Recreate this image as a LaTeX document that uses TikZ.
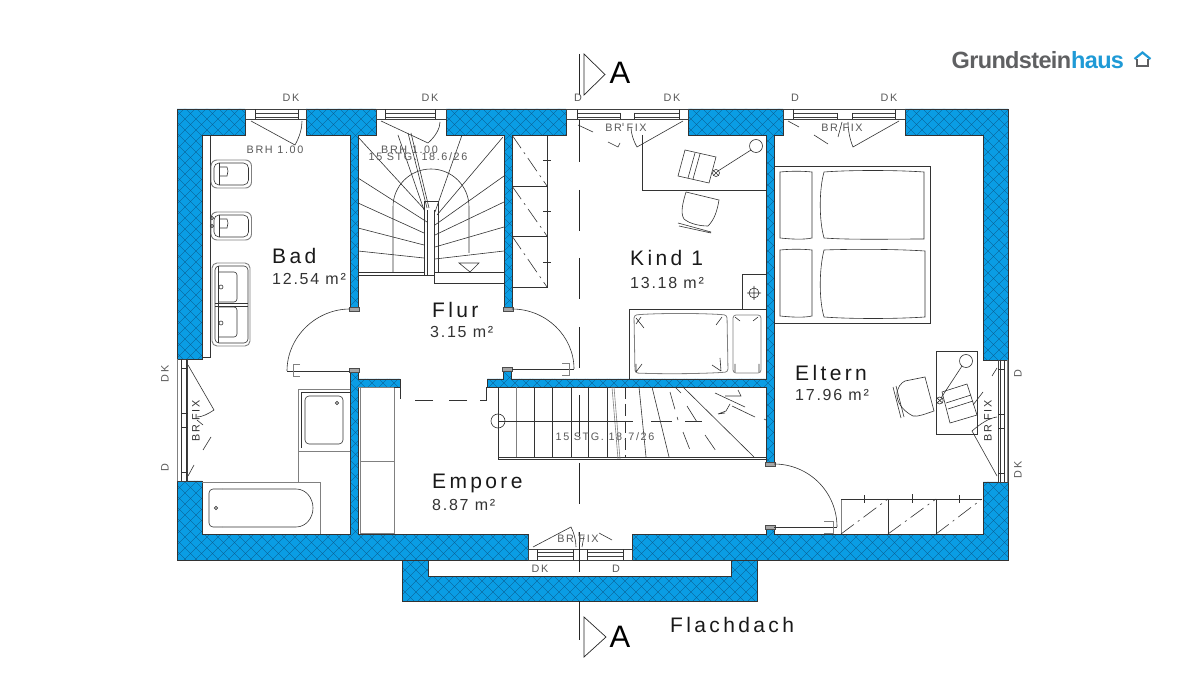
\documentclass[tikz,border=0pt]{standalone}
\usepackage{fontspec}
\setmainfont{Liberation Sans}
\newfontfamily\roomfont[LetterSpace=16]{Liberation Sans}
\newfontfamily\areafont[LetterSpace=11]{Liberation Sans}
\newfontfamily\tinyfont[LetterSpace=15]{Liberation Sans}
\newfontfamily\logofont[LetterSpace=-2.8]{Liberation Sans Bold}
\definecolor{wallblue}{HTML}{0A9DE4}
\definecolor{hatchdark}{HTML}{0C4F7C}
\definecolor{logogray}{HTML}{5F6062}
\definecolor{logoblue}{HTML}{1F9AD6}
\newcommand{\wallshape}{
 (245,109)--(177,109)--(177,359)--(202,359)--(202,135)--(245,135)--cycle
 (306,109)--(376,109)--(376,135)--(358,135)--(358,309)--(350,309)--(350,135)--(306,135)--cycle
 (446,109)--(566,109)--(566,135)--(512,135)--(512,309)--(504,309)--(504,135)--(446,135)--cycle
 (688,109)--(783,109)--(783,135)--(774,135)--(774,464)--(766,464)--(766,387)--(487,387)--(487,379)--(503,379)--(503,369)--(511,369)--(511,379)--(766,379)--(766,135)--(688,135)--cycle
 (905,109)--(1008,109)--(1008,360)--(983,360)--(983,135)--(905,135)--cycle
 (177,481)--(202,481)--(202,534)--(350,534)--(350,369)--(358,369)--(358,379)--(400,379)--(400,387)--(358,387)--(358,534)--(528,534)--(528,560)--(177,560)--cycle
 (632,534)--(766,534)--(766,525)--(774,525)--(774,534)--(983,534)--(983,482)--(1008,482)--(1008,560)--(632,560)--cycle
 (402,560)--(428,560)--(428,576)--(731,576)--(731,560)--(757,560)--(757,601)--(402,601)--cycle
}
\tikzset{
 ln/.style={draw=black!80,line width=.6pt},
 gl/.style={draw=black!50,line width=.9pt},
 frame/.style={draw=black!75,line width=.6pt,fill=white},
 ddot/.style={draw=black!80,line width=.6pt,dash pattern=on 16pt off 5pt on 2pt off 5pt},
 sec/.style={draw=black!85,line width=.7pt},
 roomlab/.style={inner sep=0pt,anchor=west,text=black!90,font=\roomfont\fontsize{21}{24}\selectfont},
 arealab/.style={inner sep=0pt,anchor=west,text=black!80,font=\areafont\fontsize{16}{18}\selectfont},
 tiny/.style={inner sep=0pt,text=black!65,font=\tinyfont\fontsize{10.8}{12}\selectfont},
 seclab/.style={inner sep=0pt,text=black,font=\fontsize{31}{34}\selectfont},
}
\begin{document}
\begin{tikzpicture}[x=1pt,y=-1pt]
\useasboundingbox (0,0) rectangle (1200,700);
\fill[white] (0,0) rectangle (1200,700);

% walls
\begin{scope}
\clip \wallshape;
\fill[wallblue] (0,0) rectangle (1200,700);
\foreach \k in {-704,-693,...,1210}{
 \draw[hatchdark,line width=.3pt] (\k,0)--(\k+700,700);
 \draw[hatchdark,line width=.3pt] (\k+700,0)--(\k,700);
}
\end{scope}
\draw[black!80,line width=.6pt] \wallshape;

% wall end caps
\foreach \cx/\cy in {354/309.5,508/309.5,770/464.5}{
 \draw[draw=black!70,fill=black!35,line width=.5pt] (\cx-5,\cy-2) rectangle (\cx+5,\cy+2);
}
\foreach \cx/\cy in {354/370,507/369,770/527}{
 \draw[draw=black!70,fill=black!35,line width=.5pt] (\cx-5,\cy-2) rectangle (\cx+5,\cy+2);
}

% windows top
\foreach \xa/\xb/\pa/\pb in {245/306/255/298,376/446/385/435}{
 \draw[frame] (\xa,109) rectangle (\xb,119);
 \draw[frame] (\pa,113) rectangle (\pb,117);
 \draw[ln] (\pa,109.5)--(\pa,119) (\pb,109.5)--(\pb,119);
}
\foreach \xa/\xb/\pa/\pb/\pc/\pd in {566/688/577/620/634/679,783/905/793/837/852/895}{
 \draw[frame] (\xa,109) rectangle (\xb,119);
 \draw[frame] (\pa,113) rectangle (\pb,117);
 \draw[frame] (\pc,113) rectangle (\pd,117);
 \draw[ln] (\pa,109.5)--(\pa,119) (\pd,109.5)--(\pd,119);
 \draw[ln] (\pb,113)--(\pb,119) (\pc,113)--(\pc,119);
}
% window bottom
\draw[frame] (528,549) rectangle (632,560);
\draw[frame] (537,552) rectangle (573,556);
\draw[frame] (587,552) rectangle (623,556);
\draw[ln] (518+19,549)--(537,560) (573,549)--(573,560) (587,549)--(587,560) (623,549)--(623,560);
% window left
\draw[frame] (177,359) rectangle (187,481);
\draw[gl] (177.5,359)--(177.5,481);
\draw[ln] (181,359)--(181,481) (186,359)--(186,481);
\foreach \yy in {368,413,427,472}{\draw[ln] (181,\yy)--(187.5,\yy);}
% window right
\draw[frame] (998,360) rectangle (1008,482);
\draw[gl] (1007.5,360)--(1007.5,482);
\draw[ln] (1000,360)--(1000,482) (1004,360)--(1004,482);
\foreach \yy in {369,414,428,473}{\draw[ln] (998,\yy)--(1004,\yy);}

% window swings
\draw[ln] (251,121)--(295,145) .. controls (300,136) and (302,128) .. (302,121);
\draw[ln] (381,121)--(428,143) .. controls (436,136) and (440,128) .. (440,122);
\draw[ln] (578,125)--(593,132) (608,142)--(618,147)--(620,143) (623,123)--(623,126);
\draw[ln] (683,121)--(637,147) .. controls (633,140) and (631,133) .. (631,127);
\draw[ln] (788,121)--(799,127) (814,135)--(828,144) (842,122)--(838,137);
\draw[ln] (899,121)--(853,147) .. controls (850,140) and (848,130) .. (848,122);
\draw[ln] (533,547)--(571,527) .. controls (574,533) and (576,540) .. (576,547);
\draw[ln] (599,533)--(612,540) (582,547)--(584,536) (579,532)--(579,536);
\draw[ln] (188,365)--(214,410) .. controls (208,414) and (202,417) .. (197,417);
\draw[ln] (211,437)--(203,450) (194,465)--(188,476) (203,425)--(197,420);
\draw[ln] (997,476)--(972,431) .. controls (980,424) and (989,418) .. (997,417);
\draw[ln] (973,405)--(983,392) (992,376)--(997,368);

% Bad fixtures
\draw[ln] (210,135)--(210,357)--(202,357);
\foreach \yy in {160,212}{
 \draw[gl,rounded corners=6pt] (211,\yy) rectangle (251.5,\yy+28);
 \draw[ln,rounded corners=5pt] (214,\yy+3) rectangle (248.5,\yy+25);
 \draw[ln] (219,\yy+3)--(219,\yy+25);
 \draw[ln] (219,\yy+7)--(227,\yy+7)--(228,\yy+11)--(227,\yy+16)--(219,\yy+16);
}
\draw[ln] (212,218) circle (1.6) (212,226) circle (1.6);
\draw[gl,rounded corners=5pt] (212,263) rectangle (250,346);
\draw[ln,rounded corners=4pt] (215,266) rectangle (248,343);
\draw[ln] (218,266)--(218,343);
\draw[ln,rounded corners=3pt] (219,272)--(237,272)--(237,302)--(219,302);
\draw[ln,rounded corners=3pt] (219,307)--(237,307)--(237,337)--(219,337);
\draw[ln] (215,303)--(248,303) (215,306)--(248,306);
\draw[ln] (221,287) circle (2) (221,323) circle (2);
% shower
\draw[gl] (298,482)--(298,389)--(350,389) (298,451)--(350,451);
\draw[ln] (301,448)--(301,392)--(350,392);
\draw[ln,rounded corners=4pt] (305,396) rectangle (343,444);
\draw[ln] (337,403) circle (1.6);
% bath
\draw[gl] (202,482)--(320,482)--(320,534);
\draw[ln,rounded corners=4pt] (222,489)--(209,489)--(209,527)--(222,527);
\draw[ln] (222,489)--(296,489) .. controls (306,489) and (313,498) .. (313,508) .. controls (313,518) and (306,527) .. (296,527)--(222,527);
\draw[ln] (216,508) circle (1.6);
% Empore cabinet
\draw[gl] (358,387.5)--(394,387.5);
\draw[gl] (394,388)--(394,533)--(360,533)--(360,388);
\draw[gl] (360,461)--(394,461);

% Flur doors
\draw[ln,line width=.9pt] (287,371.5)--(350,371.5);
\draw[ln] (350,309) .. controls (316,309) and (287,337) .. (287,371);
\draw[gl,line width=.8pt] (300,364.5)--(293,364.5)--(293,376.5)--(300,376.5);
\draw[ln,line width=.9pt] (512,369)--(574,369);
\draw[ln] (512,309) .. controls (546,309) and (574,336) .. (574,369);
\draw[gl,line width=.8pt] (562,363.5)--(569,363.5)--(569,375.5)--(562,375.5);

% upper stair
\draw[ln] (358,272)--(424,272) (358,275)--(434,275);
\draw[ln] (434,272)--(504,272) (434,272)--(434,283)--(504,283);
\draw[ln] (424,275)--(424,201)--(438,201)--(438,272) (427,275)--(427,210) (434,275)--(434,210);
\draw[ln] (393,272)--(393,207) .. controls (393,186) and (410,169) .. (431,169) .. controls (452,169) and (469,186) .. (469,207)--(469,253);
\draw[ln] (358,137)--(425,210) (358,178)--(427,222) (358,203)--(424,233) (358,228)--(424,245) (358,251)--(424,258);
\draw[ln] (503,137)--(437,215) (504,176)--(435,225) (504,202)--(435,235) (504,227)--(435,247) (504,251)--(435,259);
\draw[ln] (398,135)--(424,210) (462,135)--(435,212);
\draw[ln] (408,133)--(427,208) (411,133)--(429,208);
\draw[ln] (459,263)--(479,263)--(470,272)--cycle;

% cabinet beside stair
\draw[ln] (512,135)--(547,135)--(547,287)--(512,287) (512,186)--(547,186) (512,236)--(547,236);
\draw[ln] (543,160)--(551,160) (543,211)--(551,211) (543,262)--(551,262);
\draw[ddot] (512,135)--(547,186);
\draw[ddot] (512,186)--(547,236);
\draw[ddot] (512,236)--(547,287);

% Kind 1 desk
\draw[ln] (642,135)--(642,190)--(766,190);
\draw[ln] (685,150)--(716,157)--(709,183)--(678,176)--cycle;
\draw[ln] (695,153)--(688,178) (700,154)--(693,179);
\draw[ln] (756,146) circle (6.5) (716,173) circle (3.5);
\draw[ln] (751,150)--(718,171) (713.5,170.5)--(718.5,175.5) (713.5,175.5)--(718.5,170.5);
\draw[ln] (686,192)--(719,200) .. controls (717,212) and (714,220) .. (708,226)
  .. controls (700,226) and (690,224) .. (684,219) .. controls (680,213) and (683,202) .. (686,192);
\draw[ln] (678,223)--(711,232) (679,226)--(711,233);

% Kind 1 bed
\draw[ln] (629,379)--(629,309)--(766,309);
\draw[ln] (742,309)--(742,274)--(766,274);
\draw[gl,line width=.8pt,rounded corners=3pt] (634,315) .. controls (660,313) and (700,313) .. (727,315) -- (728,372) .. controls (700,374) and (660,374) .. (635,373)--cycle;
\draw[gl,line width=.8pt,rounded corners=3pt] (733,315)--(761,315)--(761,373)--(733,373)--cycle;
\draw[ln] (754,293) circle (5) (747,293)--(761,293) (754,286)--(754,300);
\draw[ln] (636,318)--(644,328) (636,324)--(641,317) (722,317)--(716,325) (636,372)--(642,364) (636,364)--(636,372) (721,371)--(712,365) (721,371)--(720,358);
\draw[ln] (735,317)--(740,321) (758,317)--(753,321) (735,372)--(735,364) (759,372)--(759,364);

% lower stair
\draw[ln] (498,387)--(498,459)--(767,459) (498,457)--(767,457);
\foreach \xx in {534,552,571,588,607}{\draw[ln] (\xx,387)--(\xx,457);}
\draw[gl,line width=.8pt] (516,387)--(516,457);
\draw[gl,line width=.6pt] (612,387)--(618,459) (614,387)--(620,459);
\draw[ln] (639,387)--(646,457) (652,387)--(669,457) (683,387)--(754,457);
\draw[ln,dash pattern=on 12pt off 5pt] (625,387)--(625,457);
\draw[ln,dash pattern=on 18pt off 8pt] (670,392)--(678,420) (687,406)--(697,422) (683,432)--(690,450) (705,435)--(716,451);
\draw[ln] (675,387)--(681,393) (715,393)--(745,407) (732,406)--(755,417) (725,413)--(718,414) (738,390)--(741,396)--(725,396) (730,404)--(726,411)--(718,414) (764,419)--(766,420);
\draw[ln] (498,421) circle (7);
\draw[ln] (498,421)--(633,421) (651,421)--(672,421) (685,421)--(702,421);

% Eltern bed
\draw[ln] (774,166)--(930,166)--(930,323)--(774,323);
\draw[ln] (780,172) .. controls (790,171) and (803,171) .. (812,172) -- (812,238) .. controls (803,240) and (790,239) .. (780,238)--cycle;
\draw[ln] (780,250) .. controls (790,249) and (803,249) .. (812,250) -- (812,316) .. controls (803,318) and (790,317) .. (780,316)--cycle;
\draw[ln] (824,172) .. controls (850,170) and (895,170) .. (924,172) -- (924,239) .. controls (895,239) and (850,240) .. (824,238) .. controls (819,220) and (819,190) .. (824,172)--cycle;
\draw[ln] (824,250) .. controls (850,249) and (895,249) .. (925,251) -- (925,317) .. controls (895,319) and (850,319) .. (824,317) .. controls (819,300) and (819,270) .. (824,250)--cycle;

% Eltern desk
\draw[ln] (936,351) rectangle (977,434);
\draw[ln] (966,361) circle (6.5) (939.7,400.5) circle (3.5);
\draw[ln] (962,366)--(941,398) (937,398)--(942.5,403) (937,403)--(942.5,398);
\draw[ln] (942,392)--(967,384)--(977,415)--(950,423)--cycle;
\draw[ln] (946,403)--(971,395) (948,409)--(973,401);
\draw[ln] (925,377)--(934,411) .. controls (925,414) and (918,417) .. (913,416) .. controls (905,412) and (898,405) .. (897,396) .. controls (896,388) and (902,382) .. (905,381)--cycle;
\draw[ln] (893,387)--(901,418) (896,386)--(904,417);

% Eltern door
\draw[ln,line width=.9pt] (774,527)--(837,527);
\draw[ln] (774,464) .. controls (809,464) and (837,492) .. (837,527);
\draw[gl,line width=.8pt] (824,521)--(833,521)--(833,533)--(824,533);
% Eltern wardrobe
\draw[gl] (841,499)--(841,534);
\draw[ln,line width=.8pt] (841,499)--(982,499);
\draw[ln] (888,499)--(888,534) (936,499)--(936,534);
\draw[ln] (864,495)--(864,503) (912,494)--(912,503) (959,495)--(959,503);
\draw[ddot] (841,534)--(888,499);
\draw[ddot] (888,534)--(936,499);
\draw[ddot] (936,534)--(982,499);

% Empore stubs and dashed line
\draw[ln] (400,387)--(400,399);
\draw[ln] (486,387)--(486,400)--(480,400) (467,400)--(449,400) (433,400)--(415,400);

% section line
\draw[sec] (579,54)--(579,95);
\draw[sec] (584,54)--(605,74.5)--(584,95)--cycle;
\draw[sec] (579,120)--(579,162) (579,190)--(579,231) (579,258)--(579,299) (579,327)--(579,368)
  (579,395)--(579,436) (579,463)--(579,504) (579,532)--(579,572) (579,601)--(579,640);
\draw[sec] (584,617)--(606,637)--(584,657)--cycle;

% section labels
\node[seclab] (secTop) at (620,73) {A};
\node[seclab] (secBot) at (620,637) {A};

% window labels
\node[tiny] (w1) at (291,98) {DK};
\node[tiny] (w2) at (430,98) {DK};
\node[tiny] (w3) at (578,98) {D};
\node[tiny] (w4) at (672,98) {DK};
\node[tiny] (w5) at (795,98) {D};
\node[tiny] (w6) at (889,98) {DK};
\node[tiny] (w7) at (275,149.5) {BRH 1.00};
\node[tiny] (w8) at (409.5,149.5) {BRH 1.00};
\node[tiny] (w9) at (418,157) {15 STG. 18.6/26};
\node[tiny] (w10) at (626,128) {BR FIX};
\node[tiny] (w11) at (842,128) {BR FIX};
\node[tiny] (w12) at (578,539) {BR FIX};
\node[tiny] (w13) at (540,569) {DK};
\node[tiny] (w14) at (616,569) {D};
\node[tiny] (w15) at (605,437) {15 STG. 18.7/26};
\node[tiny,rotate=90] (w16) at (165,374) {DK};
\node[tiny,rotate=90] (w17) at (165,468) {D};
\node[tiny,rotate=90,text=black!80] (w18) at (196,421) {BR FIX};
\node[tiny,rotate=90] (w19) at (1018,374) {D};
\node[tiny,rotate=90] (w20) at (1018,470) {DK};
\node[tiny,rotate=90,text=black!80] (w21) at (988,421) {BR FIX};

% room labels
\node[roomlab] (r1) at (272,256) {Bad};
\node[arealab] (a1) at (272,279) {12.54 m²};
\node[roomlab] (r2) at (432,309.5) {Flur};
\node[arealab] (a2) at (430,332) {3.15 m²};
\node[roomlab] (r3) at (630,258) {Kind 1};
\node[arealab] (a3) at (630,283) {13.18 m²};
\node[roomlab] (r4) at (795,372.5) {Eltern};
\node[arealab] (a4) at (795,395) {17.96 m²};
\node[roomlab] (r5) at (432,483) {Empore};
\node[arealab] (a5) at (432,505) {8.87 m²};
\node[roomlab] (r6) at (670,625) {Flachdach};

% logo
\node[inner sep=0pt,anchor=west,font=\logofont\fontsize{23.5}{26}\selectfont] (logo) at (951.5,60)
  {\textcolor{logogray}{Grundstein}\textcolor{logoblue}{haus}};
\draw[logoblue,line width=2.2pt,line join=miter] (1134.5,59)--(1142.5,52.5)--(1150.5,59);
\draw[logogray,line width=2.2pt] (1137,59)--(1137,66)--(1148,66)--(1148,59);
\end{tikzpicture}
\end{document}
